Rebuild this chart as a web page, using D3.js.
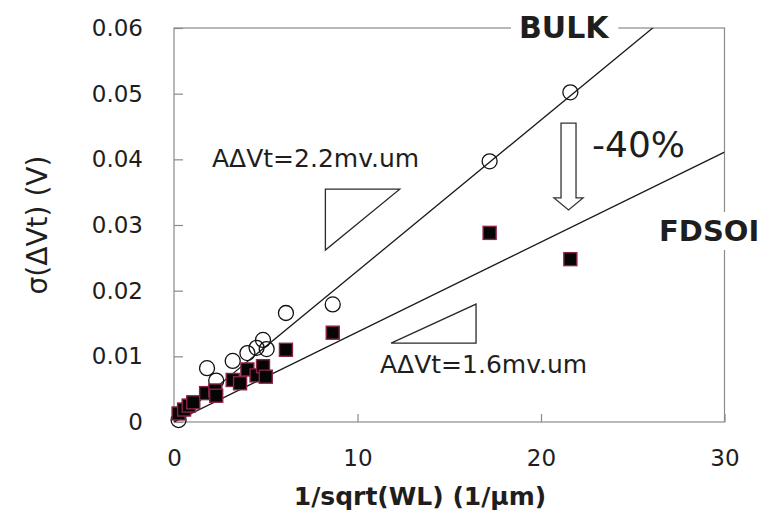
<!DOCTYPE html>
<html>
<head>
<meta charset="utf-8">
<script src="https://cdn.jsdelivr.net/npm/d3@7"></script>
<style>
  html, body { margin: 0; padding: 0; background: #fff; }
  svg { display: block; }
  text { font-family: "DejaVu Sans", sans-serif; fill: #1e1e1e; }
</style>
</head>
<body>
<svg id="chart" width="766" height="521"></svg>
<script>
// Mismatch of threshold voltage vs 1/sqrt(WL), BULK and FDSOI devices
const bulkX = [0.25, 1.8, 2.3, 3.2, 4.0, 4.5, 4.85, 5.05, 6.1, 8.65, 17.2, 21.6];
const bulkY = [0.0003, 0.0082, 0.0063, 0.0093, 0.0105, 0.0113, 0.0125, 0.0111, 0.0166, 0.0179, 0.0397, 0.0502];

const fdsoiX = [0.25, 0.55, 0.8, 1.05, 1.75, 2.25, 2.3, 3.2, 3.6, 4.0, 4.5, 4.85, 5.0, 6.1, 8.65, 17.2, 21.6];
const fdsoiY = [0.0013, 0.0019, 0.0025, 0.0030, 0.0044, 0.0048, 0.0040, 0.0064, 0.0059, 0.0080, 0.0071, 0.0085, 0.0069, 0.0110, 0.0136, 0.0288, 0.0248];

// Trend lines through the origin (V·µm)
const fitNames = ["BULK", "FDSOI"];
const fitSlopes = [0.0023, 0.00137];

const xTicks = [0, 10, 20, 30];
const yTicks = [0, 0.01, 0.02, 0.03, 0.04, 0.05, 0.06];

const slopeLabels = ["A\u0394Vt=2.2mv.um", "A\u0394Vt=1.6mv.um"];

const svg = d3.select("#chart");
const W = 766, H = 521;
svg.append("rect").attr("width", W).attr("height", H).attr("fill", "#fff");

const x = d3.scaleLinear().domain([0, 30]).range([174, 724.5]);
const y = d3.scaleLinear().domain([0, 0.06]).range([422, 28]);

// plot frame
svg.append("rect")
  .attr("x", x(0)).attr("y", y(0.06))
  .attr("width", x(30) - x(0)).attr("height", y(0) - y(0.06))
  .attr("fill", "none").attr("stroke", "#8a8a8a").attr("stroke-width", 1.2);

// axes with inward ticks
const yAxis = svg.append("g").attr("transform", `translate(${x(0)},0)`)
  .call(d3.axisLeft(y).tickValues(yTicks).tickFormat(d => d === 0 ? "0" : d3.format(".2f")(d))
    .tickSizeInner(-9).tickSizeOuter(0).tickPadding(31));
const xAxis = svg.append("g").attr("transform", `translate(0,${y(0)})`)
  .call(d3.axisBottom(x).tickValues(xTicks).tickFormat(d3.format("d"))
    .tickSizeInner(-8).tickSizeOuter(0).tickPadding(28));
[yAxis, xAxis].forEach(g => {
  g.select(".domain").remove();
  g.selectAll(".tick line").attr("stroke", "#8a8a8a").attr("stroke-width", 1.2);
  g.selectAll(".tick text").attr("font-size", 23).attr("fill", "#262626")
    .style("font-family", "'DejaVu Sans', sans-serif");
});

// axis titles
svg.append("text")
  .attr("transform", `translate(47,${(y(0) + y(0.06)) / 2}) rotate(-90)`)
  .attr("text-anchor", "middle").attr("font-size", 28)
  .text("\u03c3(\u0394Vt) (V)");
svg.append("text")
  .attr("x", 420).attr("y", 505)
  .attr("text-anchor", "middle").attr("font-size", 25).attr("font-weight", "bold")
  .text("1/sqrt(WL) (1/\u00b5m)");

// clip for the fitted lines
svg.append("clipPath").attr("id", "plotClip").append("rect")
  .attr("x", x(0)).attr("y", y(0.06))
  .attr("width", x(30) - x(0)).attr("height", y(0) - y(0.06));

const lineGen = d3.line().x(d => x(d[0])).y(d => y(d[1]));
fitSlopes.forEach(s => {
  svg.append("path")
    .attr("clip-path", "url(#plotClip)")
    .attr("d", lineGen([[0, 0], [30, 30 * s]]))
    .attr("fill", "none").attr("stroke", "#1a1a1a").attr("stroke-width", 1.3);
});

// slope triangles
const triUpper = [[8.25, 0.03546], [12.3, 0.03546], [8.25, 0.02618]];
const triLower = [[11.83, 0.0120], [16.46, 0.0120], [16.46, 0.01796]];
[triUpper, triLower].forEach(t => {
  svg.append("path")
    .attr("d", lineGen(t) + "Z")
    .attr("fill", "none").attr("stroke", "#2a2a2a").attr("stroke-width", 1.3);
});

svg.append("text").attr("x", 212).attr("y", 167).attr("font-size", 25).text(slopeLabels[0]);
svg.append("text").attr("x", 380).attr("y", 373).attr("font-size", 25).text(slopeLabels[1]);

// BULK markers: open circles
svg.append("g").selectAll("circle")
  .data(d3.zip(bulkX, bulkY))
  .join("circle")
  .attr("cx", d => x(d[0])).attr("cy", d => y(d[1])).attr("r", 7.5)
  .attr("fill", "none").attr("stroke", "#111").attr("stroke-width", 1.3);

// FDSOI markers: filled squares
const sq = 13;
svg.append("g").selectAll("rect")
  .data(d3.zip(fdsoiX, fdsoiY))
  .join("rect")
  .attr("x", d => x(d[0]) - sq / 2).attr("y", d => y(d[1]) - sq / 2)
  .attr("width", sq).attr("height", sq)
  .attr("fill", "#050505").attr("stroke", "#8c2346").attr("stroke-width", 1.4);

// hollow down arrow between the two trends
const ax = x(21.5), aTop = y(0.0455), aTip = y(0.0323);
const shaft = 7.5, head = 14.5, headH = 12;
svg.append("path")
  .attr("d", `M${ax - shaft},${aTop} L${ax + shaft},${aTop} L${ax + shaft},${aTip - headH}
              L${ax + head},${aTip - headH} L${ax},${aTip} L${ax - head},${aTip - headH}
              L${ax - shaft},${aTip - headH} Z`)
  .attr("fill", "#fff").attr("stroke", "#333").attr("stroke-width", 1.3);

svg.append("text").attr("x", 592).attr("y", 157).attr("font-size", 36).text("-40%");

// series names with white backing so the frame is interrupted
function boxedLabel(txt, tx, ty, size) {
  const g = svg.append("g");
  const bg = g.append("rect").attr("fill", "#fff");
  const t = g.append("text").attr("x", tx).attr("y", ty)
    .attr("font-size", size).attr("font-weight", "bold").attr("fill", "#0d0d0d").text(txt);
  const b = t.node().getBBox();
  bg.attr("x", b.x - 8).attr("y", b.y - 2).attr("width", b.width + 16).attr("height", b.height + 4);
}
boxedLabel(fitNames[0], 519, 38, 30);
boxedLabel(fitNames[1], 659, 241, 29);
</script>
</body>
</html>
